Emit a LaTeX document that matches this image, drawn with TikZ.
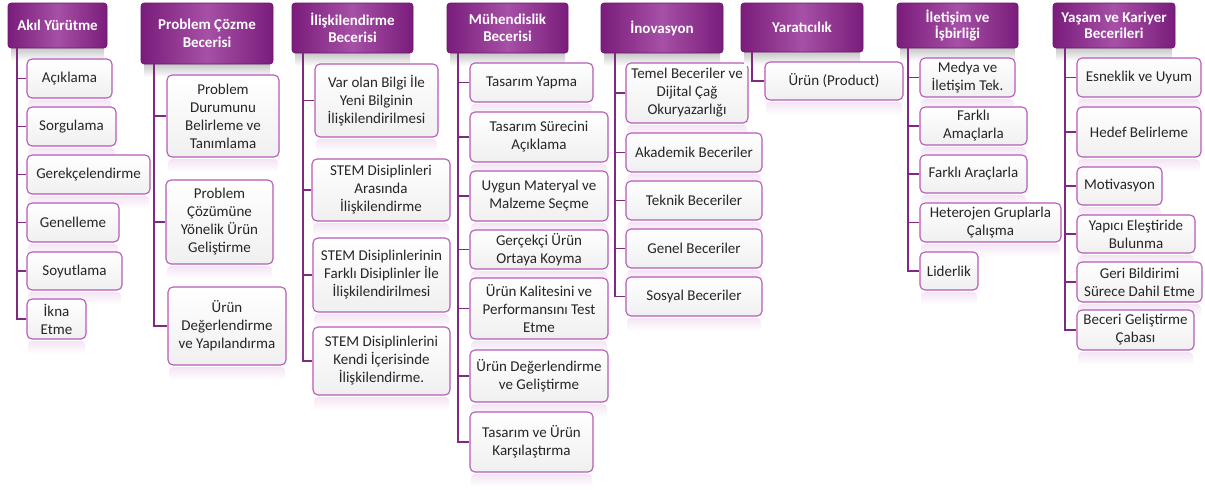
\documentclass[tikz,border=0pt]{standalone}
\usepackage{fontspec}
\setmainfont{Carlito}
\usetikzlibrary{calc}
\definecolor{hdark}{HTML}{7A1C7B}
\definecolor{hlight}{HTML}{A650A6}
\definecolor{lborder}{HTML}{B65AB6}
\definecolor{conncol}{HTML}{7E2A80}
\definecolor{txt}{HTML}{262626}
\tikzset{
  head/.style={draw=hdark!85!black, line width=0.6pt, rounded corners=3pt,
    left color=hdark, right color=hdark, middle color=hlight, text=white,
    font=\fontsize{15}{17.5}\selectfont\bfseries, align=center, inner sep=0pt},
  leaf/.style={draw=lborder, line width=1.1pt, rounded corners=5pt,
    top color=white, bottom color=black!6, text=txt,
    font=\fontsize{15}{18}\selectfont, align=center, inner sep=0pt},
  conn/.style={draw=conncol, line width=1.6pt},
  hshadow/.style={top color=black!22, bottom color=white, draw=none},
  refl/.style={top color=lborder!16, bottom color=white, draw=none, rounded corners=4pt},
}
% \headbox{name}{x1}{y1}{x2}{y2}{text}: purple category box with soft shadow
\newcommand\headbox[6]{%
  \path[hshadow] (#2+3,#5) rectangle (#4-3,#5+13);
  \node[head, minimum width={(#4-#2)*1pt}, minimum height={(#5-#3)*1pt}]
    (#1) at ({(#2+#4)/2},{(#3+#5)/2}) {#6};}
% \leafbox{name}{x1}{y1}{x2}{y2}{text}: white item box with faded reflection
\newcommand\leafbox[6]{%
  \path[refl] (#2+1,#5+2) rectangle (#4-1,#5+15);
  \node[leaf, minimum width={(#4-#2)*1pt}, minimum height={(#5-#3)*1pt}]
    (#1) at ({(#2+#4)/2},{(#3+#5)/2}) {#6};}
\begin{document}
\begin{tikzpicture}[x=1pt,y=-1pt]
\fill[white] (0,0) rectangle (1205,490);
\useasboundingbox (0,0) rectangle (1205,490);

% trunk positions
\coordinate (tA) at (17,0);
\coordinate (tB) at (154,0);
\coordinate (tC) at (303,0);
\coordinate (tD) at (458,0);
\coordinate (tE) at (615,0);
\coordinate (tF) at (752,0);
\coordinate (tG) at (908,0);
\coordinate (tH) at (1065,0);

% Akıl Yürütme
\headbox{hA}{8}{3}{107}{48}{Akıl Yürütme}
\leafbox{a1}{27}{59}{112}{98}{Açıklama}
\leafbox{a2}{27}{107}{116}{146}{Sorgulama}
\leafbox{a3}{27}{155}{150}{194}{Gerekçelendirme}
\leafbox{a4}{27}{203}{119}{242}{Genelleme}
\leafbox{a5}{27}{252}{122}{290}{Soyutlama}
\leafbox{a6}{27}{299}{86}{339}{İkna\\Etme}

% Problem Çözme Becerisi
\headbox{hB}{141}{3}{273}{64}{Problem Çözme\\Becerisi}
\leafbox{b1}{167}{75}{279}{157}{Problem\\Durumunu\\Belirleme ve\\Tanımlama}
\leafbox{b2}{166}{180}{273}{264}{Problem\\Çözümüne\\Yönelik Ürün\\Geliştirme}
\leafbox{b3}{168}{287}{286}{365}{Ürün\\Değerlendirme\\ve Yapılandırma}

% İlişkilendirme Becerisi
\headbox{hC}{292}{3}{413}{53}{İlişkilendirme\\Becerisi}
\leafbox{c1}{315}{64}{438}{137}{Var olan Bilgi İle\\Yeni Bilginin\\İlişkilendirilmesi}
\leafbox{c2}{312}{159}{450}{221}{STEM Disiplinleri\\Arasında\\İlişkilendirme}
\leafbox{c3}{313}{238}{450}{312}{STEM Disiplinlerinin\\Farklı Disiplinler İle\\İlişkilendirilmesi}
\leafbox{c4}{313}{327}{450}{395}{STEM Disiplinlerini\\Kendi İçerisinde\\İlişkilendirme.}

% Mühendislik Becerisi
\headbox{hD}{447}{3}{568}{53}{Mühendislik\\Becerisi}
\leafbox{d1}{470}{63}{593}{102}{Tasarım Yapma}
\leafbox{d2}{470}{112}{608}{162}{Tasarım Sürecini\\Açıklama}
\leafbox{d3}{470}{171}{608}{221}{Uygun Materyal ve\\Malzeme Seçme}
\leafbox{d4}{470}{230}{608}{269}{Gerçekçi Ürün\\Ortaya Koyma}
\leafbox{d5}{470}{278}{608}{339}{Ürün Kalitesini ve\\Performansını Test\\Etme}
\leafbox{d6}{470}{350}{608}{402}{Ürün Değerlendirme\\ve Geliştirme}
\leafbox{d7}{470}{412}{593}{472}{Tasarım ve Ürün\\Karşılaştırma}

% İnovasyon
\headbox{hE}{601}{3}{723}{53}{İnovasyon}
\leafbox{e1}{626}{63}{748}{123}{Temel Beceriler ve\\Dijital Çağ\\Okuryazarlığı}
\leafbox{e2}{626}{133}{762}{172}{Akademik Beceriler}
\leafbox{e3}{626}{181}{762}{220}{Teknik Beceriler}
\leafbox{e4}{626}{229}{762}{268}{Genel Beceriler}
\leafbox{e5}{626}{277}{762}{316}{Sosyal Beceriler}

% Yaratıcılık
\headbox{hF}{741}{3}{863}{52}{Yaratıcılık}
\leafbox{f1}{765}{62}{903}{100}{Ürün (Product)}

% İletişim ve İşbirliği
\headbox{hG}{897}{3}{1018}{48}{İletişim ve\\[-2pt]İşbirliği}
\leafbox{g1}{920}{58}{1015}{97}{Medya ve\\İletişim Tek.}
\leafbox{g2}{920}{107}{1027}{145}{Farklı\\Amaçlarla}
\leafbox{g3}{920}{155}{1027}{193}{Farklı Araçlarla}
\leafbox{g4}{920}{203}{1061}{242}{Heterojen Gruplarla\\Çalışma}
\leafbox{g5}{920}{252}{978}{290}{Liderlik}

% Yaşam ve Kariyer Becerileri
\headbox{hH}{1053}{3}{1175}{48}{Yaşam ve Kariyer\\[-2pt]Becerileri}
\leafbox{h1}{1077}{58}{1201}{97}{Esneklik ve Uyum}
\leafbox{h2}{1077}{107}{1201}{157}{Hedef Belirleme}
\leafbox{h3}{1077}{167}{1162}{205}{Motivasyon}
\leafbox{h4}{1077}{215}{1195}{253}{Yapıcı Eleştiride\\Bulunma}
\leafbox{h5}{1077}{262}{1202}{302}{Geri Bildirimi\\Sürece Dahil Etme}
\leafbox{h6}{1077}{310}{1194}{350}{Beceri Geliştirme\\Çabası}

% connectors: trunk down to the last item, then a branch to each item
\draw[conn] (hA.south -| tA) |- (a6.west);
\foreach \c in {a1,a2,a3,a4,a5} \draw[conn] (tA |- \c.west) -- (\c.west);
\draw[conn] (hB.south -| tB) |- (b3.west);
\foreach \c in {b1,b2} \draw[conn] (tB |- \c.west) -- (\c.west);
\draw[conn] (hC.south -| tC) |- (c4.west);
\foreach \c in {c1,c2,c3} \draw[conn] (tC |- \c.west) -- (\c.west);
\draw[conn] (hD.south -| tD) |- (d7.west);
\foreach \c in {d1,d2,d3,d4,d5,d6} \draw[conn] (tD |- \c.west) -- (\c.west);
\draw[conn] (hE.south -| tE) |- (e5.west);
\foreach \c in {e1,e2,e3,e4} \draw[conn] (tE |- \c.west) -- (\c.west);
\draw[conn] (hF.south -| tF) |- (f1.west);
\draw[conn] (hG.south -| tG) |- (g5.west);
\foreach \c in {g1,g2,g3,g4} \draw[conn] (tG |- \c.west) -- (\c.west);
\draw[conn] (hH.south -| tH) |- (h6.west);
\foreach \c in {h1,h2,h3,h4,h5} \draw[conn] (tH |- \c.west) -- (\c.west);
\end{tikzpicture}
\end{document}
